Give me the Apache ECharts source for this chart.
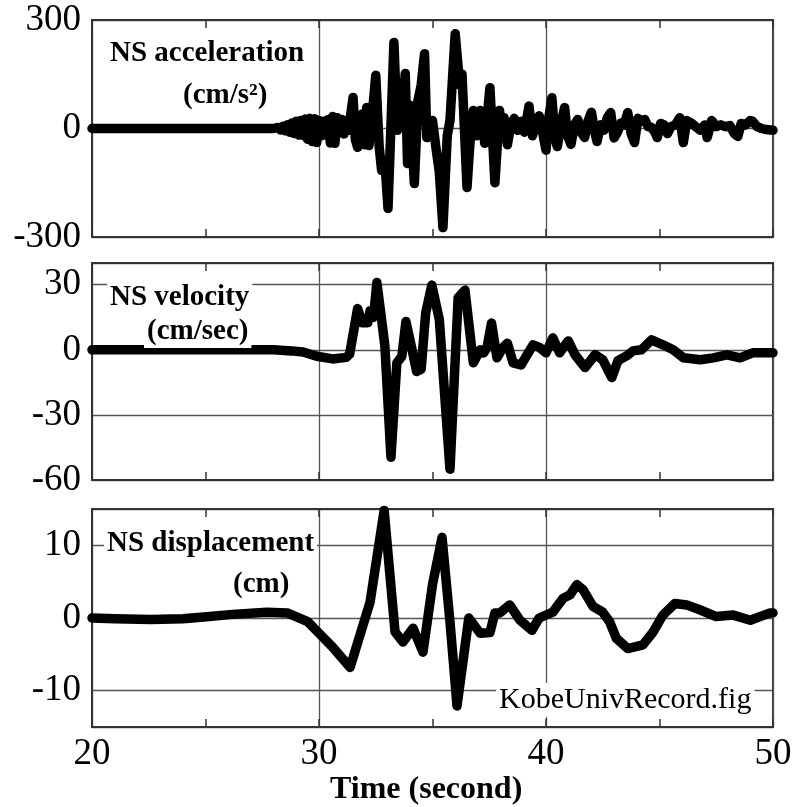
<!DOCTYPE html>
<html>
<head>
<meta charset="utf-8">
<script src="https://cdn.jsdelivr.net/npm/echarts@6/dist/echarts.min.js"></script>
<style>html,body{margin:0;padding:0;background:#fff}#c{width:805px;height:807px}</style>
</head>
<body>
<div id="c"></div>
<script>
// ---- data (time in seconds) ----
const accTime = [20,28.0,28.2,28.3,28.4,28.5,28.6,28.7,28.8,28.9,29.0,29.1,29.2,29.3,29.4,29.5,29.6,29.7,29.8,29.9,30.0,30.1,30.2,30.3,30.4,30.5,30.6,30.7,30.8,30.9,31.0,31.1,31.2,31.3,31.4,31.5,31.6,31.7,31.8,31.9,32.0,32.1,32.2,32.35,32.5,32.65,32.76,32.9,33.04,33.3,33.45,33.55,33.65,33.8,33.9,34.0,34.1,34.2,34.36,34.5,34.65,34.75,34.85,35.0,35.15,35.3,35.46,35.65,35.77,36.0,36.2,36.3,36.52,36.65,36.8,36.95,37.1,37.2,37.3,37.53,37.75,37.95,38.05,38.15,38.3,38.45,38.6,38.75,38.9,39.05,39.25,39.4,39.55,39.7,39.85,40.0,40.1,40.26,40.4,40.5,40.65,40.82,40.95,41.1,41.25,41.4,41.55,41.7,41.85,42.0,42.15,42.25,42.4,42.55,42.7,42.85,43.0,43.15,43.3,43.45,43.6,43.75,43.9,44.05,44.2,44.35,44.5,44.65,44.8,44.9,45.05,45.2,45.35,45.5,45.7,45.9,46.05,46.2,46.4,46.6,46.8,47.0,47.1,47.3,47.5,47.7,47.9,48.1,48.3,48.45,48.6,48.8,49.0,49.1,49.3,49.5,49.7,50];
const accValues = [0,0,3,-4,6,-6,10,-10,15,-14,20,-18,22,-19,26,-30,28,-36,27,-39,22,-20,20,-18,25,-40,33,-41,30,-12,25,-15,22,-5,40,86,-30,-52,10,40,-45,58,-47,40,147,-50,-116,-90,-221,238,-5,40,10,152,-97,64,-30,-152,77,120,207,-25,10,22,-52,-120,-274,-20,22,262,120,150,-163,-40,50,-20,50,20,-41,113,-150,50,0,30,-45,10,28,-5,20,-10,62,-20,10,35,-10,-60,20,85,-30,-50,10,58,-20,-44,10,25,-10,-25,20,45,-10,-36,10,-5,30,44,-26,-10,15,10,44,-14,-39,28,20,25,5,3,-10,-25,14,10,-14,5,10,30,-39,22,15,5,-5,10,-25,22,5,10,5,8,-14,-22,14,10,22,20,5,0,-3,-5];

const velTime = [20,28.0,28.8,29.3,29.9,30.6,31.2,31.35,31.7,31.9,32.15,32.25,32.4,32.55,32.9,33.17,33.43,33.65,33.83,34.1,34.3,34.5,34.7,34.97,35.3,35.77,36.13,36.43,36.8,37.1,37.25,37.4,37.6,37.84,38.1,38.3,38.55,38.9,39.43,39.73,40.0,40.3,40.6,40.98,41.28,41.72,42.16,42.5,42.9,43.17,43.57,43.83,44.2,44.65,45.15,45.6,46.05,46.8,47.37,47.97,48.55,49.1,50];
const velValues = [0,0,-0.5,-1,-3,-4.2,-3.5,-2,19,12.5,12.5,18,15,31,2,-49.5,-6,-3,13,0,-10,-9,17,29.8,14,-55,24,27.5,-6,0,-1.5,1,12.3,-3.7,1,3,-6,-7,2.3,1,-1.4,5.5,-1.4,4.1,-2.3,-8.2,-2.3,-4.6,-12.8,-5,-2.7,-0.5,0,4.6,2.3,0,-3.7,-4.6,-3.7,-2.3,-3.7,-1.4,-1.4];

const dispTime = [20,21,22.6,24,24.8,26.2,27.7,28.6,29.5,30.0,30.6,31.37,32.25,32.87,33.35,33.7,34.14,34.58,35.0,35.42,35.77,36.08,36.6,37.1,37.53,37.75,37.97,38.4,38.85,39.38,39.7,40.3,40.75,41.06,41.36,41.63,42.07,42.5,42.8,43.1,43.6,44.27,44.7,45.15,45.68,46.2,46.8,47.5,48.25,49.0,49.87,50];
const dispValues = [0,-0.1,-0.2,-0.1,0.1,0.5,0.8,0.7,-0.5,-2.1,-4.0,-6.8,2.2,14.8,-1.9,-3.3,-1.4,-4.7,4.6,11.1,-0.5,-12.1,0,-2.1,-2.0,0.7,0.7,1.8,-0.3,-1.7,0,0.8,2.7,3.2,4.6,3.9,1.6,0.8,-0.5,-2.8,-4.2,-3.7,-2.0,0.4,2.0,1.8,1.1,0.2,0.4,-0.3,0.7,0.7];

const xTicks = [20, 30, 40, 50];
const xMinorTicks = [25, 35, 45];
const panels = [
  {name:'NS acceleration', unit:'(cm/s²)', min:-300, max:300, interval:300, t:accTime, v:accValues},
  {name:'NS velocity', unit:'(cm/sec)', min:-60, max:40, interval:30, t:velTime, v:velValues},
  {name:'NS displacement', unit:'(cm)', min:-15, max:15, interval:null, t:dispTime, v:dispValues}
];
const xTitle = 'Time (second)';
const figName = 'KobeUnivRecord.fig';

// ---- layout ----
const FONT = 'Liberation Serif';
const gridTops = [20, 263, 509];
const gridH = [217, 217, 218];
const TICK_PX = 8;
const chart = echarts.init(document.getElementById('c'), null, {renderer:'canvas'});

const grids = [], xAxes = [], yAxes = [], series = [];
const xMin = xTicks[0], xMax = xTicks[xTicks.length-1];
panels.forEach((p, i) => {
  grids.push({left:92, top:gridTops[i], width:681, height:gridH[i], show:true, borderColor:'#333', borderWidth:2, containLabel:false});
  const baseX = {
    type:'value', gridIndex:i, min:xMin, max:xMax, interval:10,
    axisLine:{show:true, onZero:false, lineStyle:{color:'#333', width:2}},
    axisTick:{show:true, inside:true, length:8, lineStyle:{color:'#333', width:1.5}},
    splitLine:{show:false}
  };
  xAxes.push(Object.assign({}, baseX, {
    position:'bottom',
    splitLine:{show:true, lineStyle:{color:'#555', width:1.3}},
    axisLabel:{show:i===2, fontFamily:FONT, fontSize:37, color:'#000', margin:9}
  }));
  xAxes.push(Object.assign({}, baseX, {position:'top', axisLabel:{show:false}}));
  const y = {
    type:'value', gridIndex:i, min:p.min, max:p.max,
    axisLine:{show:true, onZero:false, lineStyle:{color:'#333', width:2}},
    axisTick:{show:false},
    splitLine:{show:true, lineStyle:{color:'#555', width:1.3}},
    axisLabel:{fontFamily:FONT, fontSize:37, color:'#000', margin:11,
      formatter: v => (p.interval ? (Math.abs(v % p.interval) < 1e-9 ? String(v) : '') : (Math.abs(v % 10) < 1e-9 ? String(v) : ''))}
  };
  if (p.interval) y.interval = p.interval; else y.splitNumber = 3;
  yAxes.push(y);
  // short inward tick marks at the half-decade times, top and bottom edges
  const tickLen = (p.max - p.min) * TICK_PX / gridH[i];
  const tickData = [];
  xMinorTicks.forEach(t => {
    tickData.push([{coord:[t, p.max]}, {coord:[t, p.max - tickLen]}]);
    tickData.push([{coord:[t, p.min]}, {coord:[t, p.min + tickLen]}]);
  });
  series.push({
    type:'line', xAxisIndex:i*2, yAxisIndex:i, showSymbol:false, silent:true,
    data:p.t.map((t, k) => [t, p.v[k]]),
    lineStyle:{color:'#000', width:9.5, join:'round', cap:'round'},
    markLine:{silent:true, symbol:['none','none'], animation:false, label:{show:false},
      lineStyle:{color:'#333', width:1.5, type:'solid'}, data:tickData},
    z:3
  });
});

const titleStyle = {fontFamily:FONT, fontSize:29, fontWeight:'bold', color:'#000'};
const titles = [
  {text:panels[0].name, left:107, top:37, textStyle:titleStyle, padding:[2,3], backgroundColor:'#fff'},
  {text:panels[0].unit, left:180, top:79, textStyle:titleStyle, padding:[2,3], backgroundColor:'#fff'},
  {text:panels[1].name, left:107, top:281, textStyle:titleStyle, padding:[2,3], backgroundColor:'#fff'},
  {text:panels[1].unit, left:144, top:315, textStyle:titleStyle, padding:[2,3], backgroundColor:'#fff'},
  {text:panels[2].name, left:104, top:527, textStyle:titleStyle, padding:[2,3], backgroundColor:'#fff'},
  {text:panels[2].unit, left:230, top:568, textStyle:titleStyle, padding:[2,3], backgroundColor:'#fff'},
  {text:figName, left:496, top:683, textStyle:{fontFamily:FONT, fontSize:30, fontWeight:'normal', color:'#000'}, padding:[2,3], backgroundColor:'#fff'},
  {text:xTitle, left:330, top:774, textStyle:{fontFamily:FONT, fontSize:32, fontWeight:'bold', color:'#000'}, padding:0}
];

chart.setOption({
  animation:false,
  backgroundColor:'#fff',
  title:titles,
  grid:grids,
  xAxis:xAxes,
  yAxis:yAxes,
  series:series
});
</script>
</body>
</html>
